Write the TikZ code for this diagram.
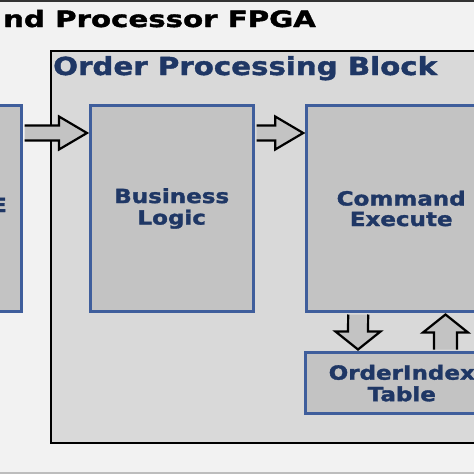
\documentclass[tikz,border=0pt]{standalone}
\usepackage{fontspec}
\setmainfont{DejaVu Sans}
\newfontfamily\lblfont[FakeStretch=1.18,FakeBold=1.6]{DejaVu Sans Bold}
\newfontfamily\titlefont[FakeStretch=1.3,FakeBold=1.8]{DejaVu Sans Bold}
\usetikzlibrary{calc}
\definecolor{bgc}{HTML}{F2F2F2}
\definecolor{blockc}{HTML}{D9D9D9}
\definecolor{boxc}{HTML}{C3C3C3}
\definecolor{boxline}{HTML}{3F5E9C}
\definecolor{txtc}{HTML}{1F3765}
\definecolor{bandc}{HTML}{BDBDBD}
\tikzset{
  blk/.style={draw=boxline, line width=3pt, fill=boxc, anchor=north west,
    inner sep=0pt, align=center, text=txtc,
    font=\lblfont\fontsize{19.5}{21.5}\selectfont},
  barrow/.style={draw=black, line width=2.2pt, fill=boxc, line join=miter},
  outer/.style={draw=black, line width=2pt, fill=blockc}
}
\begin{document}
\begin{tikzpicture}[x=1pt,y=-1pt]
\useasboundingbox (0,0) rectangle (474,474);
\clip (0,0) rectangle (474,474);
\fill[bgc] (0,0) rectangle (474,474);
\fill[black!80] (0,0) rectangle (474,2);
\fill[bandc] (0,471.5) rectangle (474,474);
\node[anchor=base west, inner sep=0pt, font=\titlefont\fontsize{22.5}{24}\selectfont] (title) at (3,27) {nd Processor FPGA};
\draw[outer] (50.5,51) rectangle (520,443);
\node[anchor=base west, inner sep=0pt, text=txtc, font=\lblfont\fontsize{24.8}{26}\selectfont] (opb) at (53,75) {Order Processing Block};
% boxes
\node[blk, minimum width=170, minimum height=206] (src) at (-150,104) {};
\node[anchor=base east, inner sep=0pt, text=txtc, font=\lblfont\fontsize{19.5}{21.5}\selectfont] (srclbl) at (7,212) {E};
\node[blk, minimum width=163.5, minimum height=206] (biz) at (88.5,104) {Business\\Logic};
\node[blk, minimum width=190, minimum height=206] (cmd) at (304.7,104) {\raisebox{0pt}[\height][\depth]{Command}\\[-1pt]Execute};
\node[blk, minimum width=192, minimum height=61.3] (tbl) at (304.3,351) {OrderIndex\\Table};
% horizontal block arrows
\coordinate (s1) at ($(src.north east)+(1.5,29)$);
\coordinate (t1) at ($(biz.north west)+(-1.5,29)$);
\draw[barrow] ($(s1)+(0,-7.5)$) -- ($(t1)+(-28,-7.5)$) -- ($(t1)+(-28,-16.5)$) -- (t1)
  -- ($(t1)+(-28,16.5)$) -- ($(t1)+(-28,7.5)$) -- ($(s1)+(0,7.5)$);
\coordinate (s2) at ($(biz.north east)+(1.5,29)$);
\coordinate (t2) at ($(cmd.north west)+(-1.5,29)$);
\draw[barrow] ($(s2)+(0,-7.5)$) -- ($(t2)+(-28,-7.5)$) -- ($(t2)+(-28,-16.5)$) -- (t2)
  -- ($(t2)+(-28,16.5)$) -- ($(t2)+(-28,7.5)$) -- ($(s2)+(0,7.5)$);
% vertical block arrows
\coordinate (s3) at ($(cmd.south west)+(53.5,1.5)$);
\coordinate (t3) at ($(tbl.north west)+(53.7,-1.5)$);
\draw[barrow] ($(s3)+(-10,0)$) -- ($(t3)+(-10,-18)$) -- ($(t3)+(-22.5,-18)$) -- (t3)
  -- ($(t3)+(22.5,-18)$) -- ($(t3)+(10,-18)$) -- ($(s3)+(10,0)$);
\coordinate (s4) at ($(tbl.north west)+(141.2,-1.5)$);
\coordinate (t4) at ($(cmd.south west)+(140.8,1.5)$);
\draw[barrow] ($(s4)+(-11.5,0)$) -- ($(t4)+(-11.5,18)$) -- ($(t4)+(-22.5,18)$) -- (t4)
  -- ($(t4)+(22.5,18)$) -- ($(t4)+(11.5,18)$) -- ($(s4)+(11.5,0)$);
\end{tikzpicture}
\end{document}
